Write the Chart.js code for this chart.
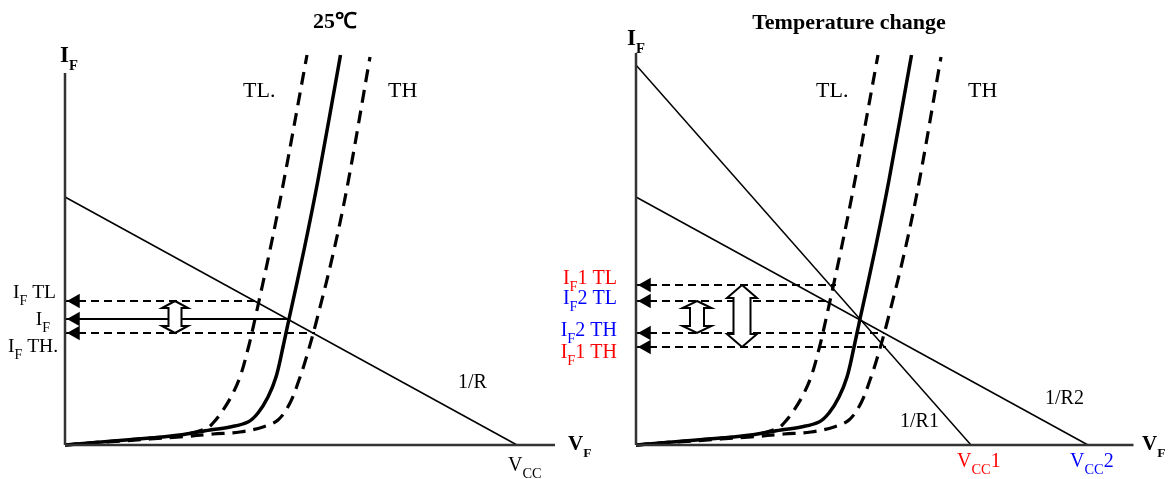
<!DOCTYPE html>
<html>
<head>
<meta charset="utf-8">
<script src="https://cdn.jsdelivr.net/npm/chart.js@4.4.1/dist/chart.umd.min.js"></script>
<style>
    body { margin: 0; background: #fff; }
    #wrap { position: relative; width: 1169px; height: 479px; }
    #wrap canvas { position: absolute; left: 0; top: 0; display: block; }
</style>
</head>
<body>
<div id="wrap">
    <canvas id="left" width="1169" height="479"></canvas>
    <canvas id="right" width="1169" height="479"></canvas>
</div>
<script>
// I-V curves (x = V_F, y = I_F, arbitrary units)
var curve25 = [[0, 0], [17, 1.75], [23, 2.5], [29, 3.75], [33, 4.5], [36.6, 5.75], [38.6, 8], [40.6, 12], [42.2, 17], [43.6, 24.5], [44.8, 31.5], [47.8, 48.75], [50.6, 66.25], [55.1, 97.5]];
var curveTL = [[0, 0], [17, 1.75], [23, 2.4], [28.4, 4.2], [29.6, 5.5], [31.2, 8], [33.2, 12], [35, 17], [36.7, 24.5], [38, 31.5], [41, 48.75], [43.8, 66.25], [48.4, 97.5]];
var curveTH = [[0, 0], [17, 1.5], [23, 2], [29.6, 2.75], [35, 3.25], [39.6, 4.5], [42.6, 6.25], [45, 10.5], [46.8, 16.25], [48.3, 22], [50.4, 31.5], [53.8, 48.75], [56.7, 66.25], [61, 97]];

// load lines: [I intercept, Vcc]
var loadR = [62, 90.4];
var loadR1 = [95, 67];
var loadR2 = [62, 90.4];

// operating points: [I_F level, V_F where the line meets the curve]
var levelsLeft = { tl: [36, 38], f: [31.5, 44.8], th: [28, 50] };
var levelsRight = { if1tl: [40, 40], if2tl: [36, 38], if2th: [28, 49.6], if1th: [24.5, 50] };

// axes extents [x end, y end]
var axisLeft = [98, 93];
var axisRight = [99.5, 98];

// hollow double arrows: [x, top level, bottom level]
var swingLeft = [[22, 36, 28]];
var swingRight = [[12.2, 36, 28], [21.2, 40, 24.5]];

var titles = ["25\u2103", "Temperature change"];
var levelLabelsLeft = ["I{F} TL", "I{F}", "I{F} TH."];
var levelLabelsRight = ["I{F}1 TL", "I{F}2 TL", "I{F}2 TH", "I{F}1 TH"];

var SERIF = "'Liberation Serif', 'Times New Roman', serif";
var RED = "#ff0000", BLUE = "#0000ff";

function pts(arr) {
    return arr.map(function (p) { return { x: p[0], y: p[1] }; });
}

function line(data, width, color, dash) {
    return {
        data: pts(data),
        showLine: true,
        borderColor: color || "#000",
        borderWidth: width,
        borderDash: dash || [],
        pointRadius: 0,
        fill: false,
        clip: false
    };
}

function curve(data, dash, width) {
    var ds = line(data, width, "#000", dash);
    ds.tension = 0.35;
    ds.borderCapStyle = "butt";
    return ds;
}

function arrowHeads(levels) {
    return {
        data: levels.map(function (l) { return { x: 2.1, y: l[0] }; }),
        showLine: false,
        pointStyle: "triangle",
        rotation: -90,
        pointRadius: 8.5,
        backgroundColor: "#000",
        borderColor: "#000",
        borderWidth: 0,
        clip: false
    };
}

// draws "I{F}1 TL" with {..} as subscript
function drawRich(ctx, str, x, y, size, bold, color, align, subScale) {
    var parts = [], re = /([^{]+)|\{([^}]*)\}/g, m;
    var ss = subScale || 0.72;
    while ((m = re.exec(str)) !== null) {
        if (m[1]) parts.push([m[1], false]);
        else parts.push([m[2], true]);
    }
    var w = 0;
    parts.forEach(function (p) {
        ctx.font = (bold ? "bold " : "") + (p[1] ? size * ss : size) + "px " + SERIF;
        p.push(ctx.measureText(p[0]).width);
        w += p[2];
    });
    var cx = x;
    if (align === "right") cx = x - w;
    if (align === "center") cx = x - w / 2;
    ctx.fillStyle = color || "#000";
    ctx.textAlign = "left";
    ctx.textBaseline = "alphabetic";
    parts.forEach(function (p) {
        ctx.font = (bold ? "bold " : "") + (p[1] ? size * ss : size) + "px " + SERIF;
        ctx.fillText(p[0], cx, p[1] ? y + size * 0.34 : y);
        cx += p[2];
    });
}

function drawDoubleArrow(ctx, cx, yTop, yBot, headW, shaftW, headL) {
    var hw = headW / 2, sw = shaftW / 2;
    ctx.beginPath();
    ctx.moveTo(cx, yTop);
    ctx.lineTo(cx + hw, yTop + headL);
    ctx.lineTo(cx + sw, yTop + headL);
    ctx.lineTo(cx + sw, yBot - headL);
    ctx.lineTo(cx + hw, yBot - headL);
    ctx.lineTo(cx, yBot);
    ctx.lineTo(cx - hw, yBot - headL);
    ctx.lineTo(cx - sw, yBot - headL);
    ctx.lineTo(cx - sw, yTop + headL);
    ctx.lineTo(cx - hw, yTop + headL);
    ctx.closePath();
    ctx.fillStyle = "#fff";
    ctx.fill();
    ctx.lineWidth = 2;
    ctx.strokeStyle = "#000";
    ctx.lineJoin = "miter";
    ctx.stroke();
}

var decor = {
    id: "decor",
    afterDatasetsDraw: function (chart, args, opts) {
        var ctx = chart.ctx, xs = chart.scales.x, ys = chart.scales.y;
        ctx.save();
        (opts.swings || []).forEach(function (s, i) {
            var st = opts.swingStyle[i];
            drawDoubleArrow(ctx, xs.getPixelForValue(s[0]), ys.getPixelForValue(s[1]),
                ys.getPixelForValue(s[2]), st[0], st[1], st[2]);
        });
        (opts.texts || []).forEach(function (t) {
            drawRich(ctx, t.text, xs.getPixelForValue(t.x), ys.getPixelForValue(t.y),
                t.size, t.bold, t.color, t.align, t.sub);
        });
        ctx.restore();
    }
};

function makePanel(id, datasets, pad, decorOpts) {
    return new Chart(document.getElementById(id), {
        type: "scatter",
        data: { datasets: datasets },
        options: {
            responsive: false,
            animation: false,
            events: [],
            layout: { padding: pad },
            scales: {
                x: { type: "linear", min: 0, max: 100, display: false },
                y: { type: "linear", min: 0, max: 100, display: false }
            },
            plugins: {
                legend: { display: false },
                tooltip: { enabled: false },
                decor: decorOpts
            }
        },
        plugins: [decor]
    });
}

window.onload = function () {
    var dash = [13, 8], hdash = [8, 5];

    // left: 25 C
    var L = levelsLeft;
    makePanel("left", [
        line([[0, 0], [0, axisLeft[1]]], 2.5, "#333"),
        line([[0, 0], [axisLeft[0], 0]], 2.5, "#333"),
        line([[0, loadR[0]], [loadR[1], 0]], 1.5),
        line([[0, L.tl[0]], [L.tl[1], L.tl[0]]], 1.8, "#000", hdash),
        line([[0, L.f[0]], [L.f[1], L.f[0]]], 1.8),
        line([[0, L.th[0]], [L.th[1], L.th[0]]], 1.8, "#000", hdash),
        curve(curveTL, dash, 3.2),
        curve(curveTH, dash, 3.2),
        curve(curve25, [], 3.5),
        arrowHeads([L.tl, L.f, L.th])
    ], { left: 65, right: 604, top: 45, bottom: 34 }, {
        swings: swingLeft,
        swingStyle: [[26, 13, 7]],
        texts: [
            { text: titles[0], x: 54, y: 104.25, size: 22, bold: true, align: "center" },
            { text: "I{F}", x: -1, y: 95.75, size: 23, bold: true, sub: 0.64 },
            { text: "V{F}", x: 100.6, y: -1.25, size: 21, bold: true, sub: 0.64 },
            { text: "TL.", x: 35.6, y: 87, size: 22 },
            { text: "TH", x: 64.6, y: 87, size: 22 },
            { text: "1/R", x: 78.6, y: 14.25, size: 20 },
            { text: "V{CC}", x: 88.6, y: -6.5, size: 20 },
            { text: levelLabelsLeft[0], x: -1.8, y: 36.75, size: 19.5, align: "right" },
            { text: levelLabelsLeft[1], x: -3, y: 30, size: 19.5, align: "right" },
            { text: levelLabelsLeft[2], x: -1.4, y: 23.25, size: 19.5, align: "right" }
        ]
    });

    // right: temperature change
    var R = levelsRight;
    makePanel("right", [
        line([[0, 0], [0, axisRight[1]]], 2.5, "#333"),
        line([[0, 0], [axisRight[0], 0]], 2.5, "#333"),
        line([[0, loadR1[0]], [loadR1[1], 0]], 1.5),
        line([[0, loadR2[0]], [loadR2[1], 0]], 1.5),
        line([[0, R.if1tl[0]], [R.if1tl[1], R.if1tl[0]]], 1.8, "#000", hdash),
        line([[0, R.if2tl[0]], [R.if2tl[1], R.if2tl[0]]], 1.8, "#000", hdash),
        line([[0, R.if2th[0]], [R.if2th[1], R.if2th[0]]], 1.8, "#000", hdash),
        line([[0, R.if1th[0]], [R.if1th[1], R.if1th[0]]], 1.8, "#000", hdash),
        curve(curveTL, dash, 3.2),
        curve(curveTH, dash, 3.2),
        curve(curve25, [], 3.5),
        arrowHeads([R.if1tl, R.if2tl, R.if2th, R.if1th])
    ], { left: 636, right: 33, top: 45, bottom: 34 }, {
        swings: swingRight,
        swingStyle: [[29, 14, 7], [30, 17, 13]],
        texts: [
            { text: titles[1], x: 42.6, y: 104, size: 22, bold: true, align: "center" },
            { text: "I{F}", x: -1.8, y: 100, size: 23, bold: true, sub: 0.64 },
            { text: "V{F}", x: 101.2, y: -1.25, size: 21, bold: true, sub: 0.64 },
            { text: "TL.", x: 36, y: 87, size: 22 },
            { text: "TH", x: 66.4, y: 87, size: 22 },
            { text: "1/R1", x: 52.8, y: 4.5, size: 20 },
            { text: "1/R2", x: 81.8, y: 10.25, size: 20 },
            { text: "V{CC}1", x: 64.2, y: -5.5, size: 20, color: RED },
            { text: "V{CC}2", x: 86.8, y: -5.5, size: 20, color: BLUE },
            { text: levelLabelsRight[0], x: -3.8, y: 40.25, size: 20, color: RED, align: "right" },
            { text: levelLabelsRight[1], x: -3.8, y: 35.25, size: 20, color: BLUE, align: "right" },
            { text: levelLabelsRight[2], x: -3.8, y: 27.25, size: 20, color: BLUE, align: "right" },
            { text: levelLabelsRight[3], x: -3.8, y: 21.75, size: 20, color: RED, align: "right" }
        ]
    });
};
</script>
</body>
</html>
